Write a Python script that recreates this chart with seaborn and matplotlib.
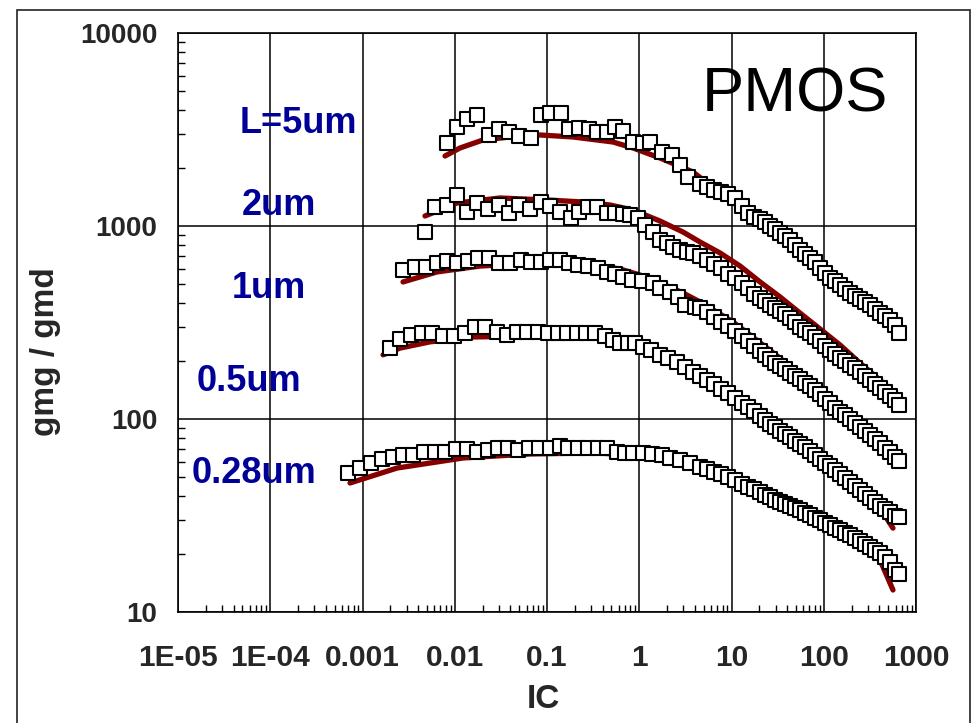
import numpy as np
import pandas as pd
import matplotlib
matplotlib.use("Agg")
import matplotlib.pyplot as plt
from matplotlib.ticker import LogLocator, NullFormatter
from matplotlib.patches import Rectangle
import seaborn as sns

sns.set_style("white")
plt.rcParams["font.family"] = ["Liberation Sans", "DejaVu Sans"]

# ---- measured gm/gd versus inversion coefficient (open squares) ----
ic_5um = [0.00824, 0.0106, 0.0136, 0.0174, 0.0235, 0.0302, 0.0387, 0.0497, 0.0671, 0.0861,
          0.108, 0.142, 0.173, 0.222, 0.285, 0.348, 0.447, 0.546, 0.667, 0.856,
          1.10, 1.31, 1.76, 2.27, 2.77, 3.38,
          4.56, 5.43, 6.46, 7.70, 9.17, 10.9, 13.0, 15.1, 17.5, 20.4, 23.1, 26.2, 29.6, 33.6,
          38.0, 43.1, 48.8, 55.3, 62.6, 70.9, 80.4, 91.0, 103, 117, 132, 150, 170, 193, 218,
          247, 280, 317, 359, 407, 461, 523, 592, 654]
gm_5um = [2692, 3258, 3585, 3759, 2962, 3181, 3069, 2927, 2858, 3759,
          3850, 3850, 3181, 3219, 3181, 3069, 3069, 3258, 3106, 2724,
          2692, 2724, 2417, 2333, 2071, 1794,
          1651, 1593, 1537, 1501, 1465, 1397, 1269, 1168, 1113, 1087, 1049, 1000, 965, 920,
          888, 846, 797, 751, 716, 683, 651, 606, 571, 538, 519, 495, 472, 450, 434,
          419, 404, 390, 372, 354, 342, 326, 307, 279]

ic_2um = [0.00476, 0.00611, 0.00824, 0.0106, 0.0136, 0.0174, 0.0229, 0.0302, 0.0387, 0.0497,
          0.0654, 0.0861, 0.108, 0.138, 0.182, 0.222, 0.278, 0.348, 0.447, 0.546,
          0.667, 0.794, 0.969, 1.15, 1.41, 1.68, 2.00, 2.32, 2.77, 3.29, 3.82,
          4.56, 5.43, 6.46, 7.70, 9.17, 10.9, 13.0, 15.1, 17.5, 20.4, 23.1, 26.2, 29.6, 33.6,
          38.0, 43.1, 48.8, 55.3, 62.6, 70.9, 80.4, 91.0, 103, 117, 132, 150, 170, 193, 218,
          247, 280, 317, 359, 407, 461, 523, 592, 654]
gm_2um = [931, 1254, 1285, 1448, 1182, 1316, 1225, 1285, 1168, 1285,
          1225, 1332, 1269, 1182, 1100, 1182, 1254, 1254, 1168, 1168,
          1154, 1140, 1100, 1012, 931, 846, 817, 778, 751, 733, 725,
          699, 667, 636, 606, 564, 538, 507, 477, 444, 424, 409, 390, 376, 363,
          350, 334, 318, 300, 289, 279, 266, 254, 239, 228, 217, 207, 200, 190, 184,
          175, 167, 159, 152, 145, 138, 132, 125, 118]

ic_1um = [0.00275, 0.00371, 0.00488, 0.00642, 0.00824, 0.0106, 0.0139, 0.0179, 0.0235, 0.0302,
          0.0397, 0.0523, 0.0671, 0.0861, 0.108, 0.138, 0.173, 0.217, 0.278, 0.357,
          0.447, 0.546, 0.667, 0.834, 1.07, 1.41, 1.68, 2.15, 2.63, 3.13, 4.02,
          4.56, 5.43, 6.46, 7.70, 9.17, 10.9, 13.0, 15.1, 17.5, 20.4, 23.1, 26.2, 29.6, 33.6,
          38.0, 43.1, 48.8, 55.3, 62.6, 70.9, 80.4, 91.0, 103, 117, 132, 150, 170, 193, 218,
          247, 280, 317, 359, 407, 461, 523, 592, 654]
gm_1um = [592, 613, 613, 643, 659, 643, 659, 683, 683, 643,
          643, 667, 651, 651, 667, 667, 643, 628, 620, 606,
          578, 564, 544, 525, 519, 507, 477, 455, 429, 390, 380,
          376, 358, 338, 318, 303, 286, 269, 254, 239, 225, 215, 205, 195, 188,
          182, 173, 167, 161, 154, 148, 141, 135, 127, 121, 114, 109, 105, 100, 95.3,
          90.9, 86.7, 82.6, 78.8, 75.1, 70.8, 67.5, 63.6, 60.6]

ic_05um = [0.00199, 0.00255, 0.00336, 0.00442, 0.00567, 0.00746, 0.00982, 0.0129, 0.0166, 0.0213,
           0.0287, 0.0368, 0.0473, 0.0607, 0.0799, 0.103, 0.132, 0.165, 0.211, 0.265,
           0.331, 0.425, 0.519, 0.619, 0.755, 0.899, 1.10, 1.34, 1.68, 2.05, 2.57, 3.13, 3.82,
           4.56, 5.43, 6.46, 7.70, 9.17, 10.9, 13.0, 15.1, 17.5, 20.4, 23.1, 26.2, 29.6, 33.6,
           38.0, 43.1, 48.8, 55.3, 62.6, 70.9, 80.4, 91.0, 103, 117, 132, 150, 170, 193, 218,
           247, 280, 317, 359, 407, 461, 523, 592, 654]
gm_05um = [233, 260, 272, 279, 279, 269, 269, 279, 300, 300,
           282, 272, 282, 282, 282, 279, 279, 279, 279, 279,
           279, 269, 257, 248, 248, 248, 236, 228, 215, 207, 197, 186, 175,
           167, 159, 152, 143, 136, 128, 121, 115, 110, 104, 98.8, 94.2, 90.9, 86.7,
           83.6, 80.7, 76.9, 74.2, 71.6, 68.3, 65.1, 62.1, 59.2, 57.1, 54.4, 51.9, 49.5, 47.2, 45.0,
           42.9, 40.9, 39.0, 37.1, 35.4, 34.2, 33.0, 31.4, 31.1]

ic_028um = [0.000697, 0.000940, 0.00124, 0.00163, 0.00214, 0.00275, 0.00353, 0.00464, 0.00611, 0.00784,
            0.0103, 0.0136, 0.0174, 0.0229, 0.0294, 0.0378, 0.0485, 0.0638, 0.0819, 0.108,
            0.138, 0.169, 0.217, 0.278, 0.357, 0.447, 0.574, 0.701, 0.856, 1.10,
            1.38, 1.76, 2.15, 2.77, 3.55,
            4.56, 5.43, 6.46, 7.70, 9.17, 10.9, 13.0, 15.1, 17.5, 20.4, 23.1, 26.2, 29.6, 33.6,
            38.0, 43.1, 48.8, 55.3, 62.6, 70.9, 80.4, 91.0, 103, 117, 132, 150, 170, 193, 218,
            247, 280, 317, 359, 407, 461, 523, 592, 654]
gm_028um = [52.5, 55.7, 59.2, 62.1, 63.6, 65.1, 65.1, 67.5, 67.5, 67.5,
            69.9, 69.9, 67.5, 69.1, 70.8, 70.8, 69.1, 70.8, 70.8, 70.8,
            72.5, 70.8, 70.8, 70.8, 70.8, 70.8, 67.5, 66.7, 66.7, 66.7,
            65.9, 65.1, 62.8, 61.3, 59.2,
            56.4, 55.1, 53.1, 51.9, 50.1, 48.3, 46.1, 44.4, 43.4, 41.8, 40.4, 39.4, 38.0, 37.1,
            36.3, 35.4, 34.6, 33.8, 32.6, 31.8, 30.7, 30.0, 28.9, 28.2, 27.2, 26.6, 25.7, 25.1, 24.2,
            23.3, 22.5, 21.7, 21.0, 20.2, 19.3, 18.2, 16.5, 15.7]

# ---- model prediction (dark red curves) ----
ic_5um_model = [0.00784, 0.0114, 0.0202, 0.0397, 0.0839, 0.191, 0.519, 0.856, 1.68, 3.82,
                7.51, 15.9, 33.6, 70.9, 150, 317, 622]
gm_5um_model = [2305, 2536, 2790, 2892, 2962, 2892, 2724, 2536, 2251, 1905,
                1483, 1140, 909, 675, 489, 385, 279]

ic_2um_model = [0.00476, 0.0106, 0.0309, 0.1, 0.246, 0.482, 0.856, 1.68, 2.98, 4.56,
                7.51, 12.4, 20.4, 33.6, 55.3, 91.0, 150, 247, 407, 622]
gm_2um_model = [1127, 1316, 1397, 1364, 1332, 1285, 1210, 1061, 931, 826,
                725, 620, 513, 429, 354, 293, 242, 195, 159, 133]

ic_1um_model = [0.00275, 0.00642, 0.0188, 0.0510, 0.138, 0.375, 0.619, 1.02, 1.68, 2.98,
                4.56, 10.4, 24.3, 55.3, 126, 294, 592]
gm_1um_model = [513, 578, 620, 636, 643, 620, 599, 557, 507, 450,
                404, 318, 233, 171, 125, 89.8, 62.8]

ic_05um_model = [0.00167, 0.00255, 0.00539, 0.0158, 0.0654, 0.348, 0.794, 1.68, 4.56, 12.4,
                 33.6, 91.0, 247, 407, 563]
gm_05um_model = [215, 233, 251, 266, 269, 266, 239, 210, 163, 122.5,
                 87.7, 62.8, 43.4, 34.6, 27.2]

ic_028um_model = [0.000732, 0.00237, 0.0123, 0.0654, 0.348, 1.68, 4.56, 12.4, 33.6, 91.0,
                  247, 407, 563]
gm_028um_model = [46.6, 55.7, 62.8, 65.9, 66.7, 63.6, 57.1, 47.2, 38.0, 30.3,
                  23.3, 18.6, 13.0]

lengths = ["5um", "2um", "1um", "0.5um", "0.28um"]
length_labels = ["L=5um", "2um", "1um", "0.5um", "0.28um"]
measured = [(ic_5um, gm_5um), (ic_2um, gm_2um), (ic_1um, gm_1um),
            (ic_05um, gm_05um), (ic_028um, gm_028um)]
modeled = [(ic_5um_model, gm_5um_model), (ic_2um_model, gm_2um_model),
           (ic_1um_model, gm_1um_model), (ic_05um_model, gm_05um_model),
           (ic_028um_model, gm_028um_model)]

x_ticks = [1e-5, 1e-4, 1e-3, 1e-2, 1e-1, 1, 10, 100, 1000]
x_tick_labels = ["1E-05", "1E-04", "0.001", "0.01", "0.1", "1", "10", "100", "1000"]
y_ticks = [10, 100, 1000, 10000]
y_tick_labels = ["10", "100", "1000", "10000"]

meas_df = pd.concat([pd.DataFrame({"IC": ic, "gm_gd": g, "L": name})
                     for (ic, g), name in zip(measured, lengths)], ignore_index=True)
model_df = pd.concat([pd.DataFrame({"IC": ic, "gm_gd": g, "L": name})
                      for (ic, g), name in zip(modeled, lengths)], ignore_index=True)

W, H = 972, 723
fig = plt.figure(figsize=(W / 100, H / 100), dpi=100)
ax = fig.add_axes([178 / W, 1 - 612 / H, 738 / W, 579 / H])
ax.set_xscale("log")
ax.set_yscale("log")

sns.lineplot(data=model_df, x="IC", y="gm_gd", units="L", estimator=None, sort=False,
             color="#870000", linewidth=3.8, solid_capstyle="round", legend=False,
             ax=ax, zorder=2)
sns.scatterplot(data=meas_df, x="IC", y="gm_gd", marker="s", s=105, color="white",
                edgecolor="black", linewidth=1.5, legend=False, ax=ax, zorder=3)

ax.set_xlim(1e-5, 1e3)
ax.set_ylim(10, 1e4)
ax.set_xticks(x_ticks)
ax.set_xticklabels(x_tick_labels, fontsize=21.5, fontweight="bold")
ax.set_yticks(y_ticks)
ax.set_yticklabels(y_tick_labels, fontsize=20, fontweight="bold")
ax.xaxis.set_minor_locator(LogLocator(base=10, subs=np.arange(2, 10), numticks=20))
ax.yaxis.set_minor_locator(LogLocator(base=10, subs=np.arange(2, 10), numticks=20))
ax.xaxis.set_minor_formatter(NullFormatter())
ax.yaxis.set_minor_formatter(NullFormatter())
ax.tick_params(axis="x", which="major", length=0, pad=23)
ax.tick_params(axis="y", which="major", length=0, pad=15)
ax.tick_params(which="minor", direction="in", length=5, width=1, color="black",
               bottom=True, left=True, top=False, right=False)

ax.grid(True, which="major", color="black", linewidth=1.1)
ax.set_axisbelow(True)
for sp in ax.spines.values():
    sp.set_visible(True)
    sp.set_color("black")
    sp.set_linewidth(1.2)

ax.set_xlabel("IC", fontsize=24, fontweight="bold")
ax.xaxis.set_label_coords(0.495, -0.124)
ax.set_ylabel("gmg / gmd", fontsize=24, fontweight="bold")
ax.yaxis.set_label_coords(-0.180, 0.45)
ax.yaxis.label.set_va("center")

# channel-length annotations
label_pos = [(0.0840, 0.8273), (0.0867, 0.6857), (0.0732, 0.5423), (0.0257, 0.3817), (0.0190, 0.2228)]
for text, (tx, ty) in zip(length_labels, label_pos):
    ax.text(tx, ty, text, transform=ax.transAxes, ha="left", va="baseline",
            fontsize=26, fontweight="bold", color="#000099")

ax.text(0.836, 0.8636, "PMOS", transform=ax.transAxes, ha="center", va="baseline",
        fontsize=45.5, color="black")

# outer frame around the figure
fig.add_artist(Rectangle((17 / W, -0.01), (970 - 17) / W, (1 - 10 / H) + 0.01,
                         transform=fig.transFigure, fill=False, edgecolor="#222222",
                         linewidth=1.2))

fig.savefig("out.png", dpi=100)
